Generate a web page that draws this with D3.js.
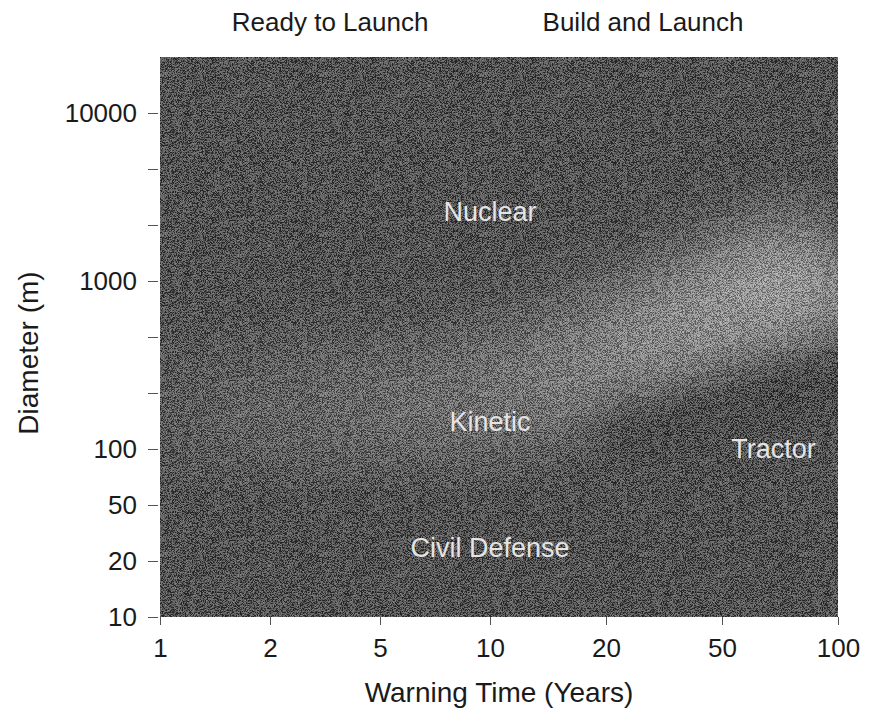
<!DOCTYPE html>
<html>
<head>
<meta charset="utf-8">
<script src="https://cdn.jsdelivr.net/npm/d3@7"></script>
<style>
  body { margin: 0; background: #fff; }
  text { font-family: "Liberation Sans", Arial, sans-serif; }
</style>
</head>
<body>
<svg id="chart" width="870" height="719"></svg>
<script>
// axis values
const xTicks = [1, 2, 5, 10, 20, 50, 100];
const yTicks = [10, 20, 50, 100, 200, 500, 1000, 2000, 5000, 10000];
const yLabelled = [10, 20, 50, 100, 1000, 10000];
const yMax = 20000;

// region names written inside the plot
const regionNames = ["Nuclear", "Kinetic", "Civil Defense", "Tractor"];
const regionX = [10, 10, 10, 68];
const regionY = [2500, 140, 25, 100];

// strategy headings above the plot
const topNames = ["Ready to Launch", "Build and Launch"];
const topX = [3.3, 26.8];

// light band across the plot (ridge of the glow) and its brightness
const ridgeX = [1, 2.6, 9, 15, 42, 95, 100];
const ridgeY = [160, 170, 195, 280, 650, 1250, 1350];
const ridgeGlow = [0.12, 0.24, 0.38, 0.5, 0.75, 0.95, 0.95];

// darker trough under the band on the right
const troughX = [22, 50, 100];
const troughY = [110, 160, 250];

const LEFT = 160, RIGHT = 838, X_MID = 490, BOTTOM = 617, DEC = 168;

// 1-2-5 values sit on thirds of a decade in this figure
const third = v => {
  const e = Math.floor(Math.log10(v) + 1e-9);
  const m = Math.round(v / 10 ** e);
  return e + (m === 1 ? 0 : m === 2 ? 1 / 3 : m === 5 ? 2 / 3 : Math.log10(m));
};
const xPos = t => t <= 1 ? LEFT + t * (X_MID - LEFT) : X_MID + (t - 1) * (RIGHT - X_MID);
const yPos = t => BOTTOM - (t - 1) * DEC;

const yStops = yTicks.concat(yMax);
const x = d3.scaleLog().domain(xTicks).range(xTicks.map(v => xPos(third(v))));
const y = d3.scaleLog().domain(yStops).range(yStops.map(v => yPos(third(v))));

const svg = d3.select("#chart");
const defs = svg.append("defs");

defs.append("clipPath").attr("id", "plotclip")
  .append("rect")
    .attr("x", x(1)).attr("y", y(yMax))
    .attr("width", x(100) - x(1)).attr("height", y(10) - y(yMax));

const glowBlur = defs.append("filter").attr("id", "glowblur")
  .attr("x", "-50%").attr("y", "-50%").attr("width", "200%").attr("height", "200%");
glowBlur.append("feGaussianBlur").attr("stdDeviation", 32);

const troughBlur = defs.append("filter").attr("id", "troughblur")
  .attr("x", "-50%").attr("y", "-50%").attr("width", "200%").attr("height", "200%");
troughBlur.append("feGaussianBlur").attr("stdDeviation", 18);

// grain
const noise = defs.append("filter").attr("id", "noise")
  .attr("x", 0).attr("y", 0).attr("width", "100%").attr("height", "100%");
noise.append("feTurbulence")
  .attr("type", "fractalNoise").attr("baseFrequency", 1.6)
  .attr("numOctaves", 1).attr("seed", 7);
noise.append("feColorMatrix").attr("type", "matrix")
  .attr("values", "3 0 0 0 -1.3  3 0 0 0 -1.3  3 0 0 0 -1.3  0 0 0 0 0.4");

const grad = defs.append("linearGradient").attr("id", "ridgegrad")
  .attr("gradientUnits", "userSpaceOnUse")
  .attr("x1", x(1)).attr("x2", x(100)).attr("y1", 0).attr("y2", 0);
grad.selectAll("stop")
  .data(ridgeX)
  .join("stop")
    .attr("offset", d => (x(d) - x(1)) / (x(100) - x(1)))
    .attr("stop-color", "#c4c4c4")
    .attr("stop-opacity", (d, i) => ridgeGlow[i]);

const plot = svg.append("g").attr("clip-path", "url(#plotclip)");

plot.append("rect")
  .attr("x", x(1)).attr("y", y(yMax))
  .attr("width", x(100) - x(1)).attr("height", y(10) - y(yMax))
  .attr("fill", "#3e3e3e");

const line = d3.line()
  .x(d => x(d[0]))
  .y(d => y(d[1]))
  .curve(d3.curveCatmullRom);

plot.append("path")
  .datum(d3.zip(ridgeX, ridgeY))
  .attr("d", line)
  .attr("fill", "none")
  .attr("stroke", "url(#ridgegrad)")
  .attr("stroke-width", 120)
  .attr("filter", "url(#glowblur)");

plot.append("path")
  .datum(d3.zip(troughX, troughY))
  .attr("d", line)
  .attr("fill", "none")
  .attr("stroke", "#303030")
  .attr("stroke-width", 46)
  .attr("stroke-linecap", "round")
  .attr("filter", "url(#troughblur)");

plot.append("rect")
  .attr("x", x(1)).attr("y", y(yMax))
  .attr("width", x(100) - x(1)).attr("height", y(10) - y(yMax))
  .attr("filter", "url(#noise)");

// axes
const xAxis = d3.axisBottom(x)
  .tickValues(xTicks)
  .tickSize(8)
  .tickPadding(14)
  .tickFormat(d3.format("d"));

svg.append("g")
  .attr("transform", `translate(0,${y(10)})`)
  .call(xAxis)
  .call(g => g.select(".domain").remove())
  .call(g => g.selectAll(".tick line").attr("stroke", "#555"))
  .call(g => g.selectAll(".tick text")
    .attr("fill", "#1a1a1a").style("font-size", "26px"));

const yAxis = d3.axisLeft(y)
  .tickValues(yTicks)
  .tickSize(10)
  .tickPadding(11)
  .tickFormat(d => yLabelled.includes(d) ? d3.format("d")(d) : "");

svg.append("g")
  .attr("transform", `translate(${x(1) - 2},0)`)
  .call(yAxis)
  .call(g => g.select(".domain").remove())
  .call(g => g.selectAll(".tick line").attr("stroke", "#555"))
  .call(g => g.selectAll(".tick text")
    .attr("fill", "#1a1a1a").style("font-size", "26px"));

// titles
svg.append("text")
  .attr("x", (x(1) + x(100)) / 2)
  .attr("y", 702)
  .attr("text-anchor", "middle")
  .attr("fill", "#1a1a1a")
  .style("font-size", "28px")
  .text("Warning Time (Years)");

svg.append("text")
  .attr("transform", `translate(38,${(y(10) + y(yMax)) / 2 + 16}) rotate(-90)`)
  .attr("text-anchor", "middle")
  .attr("fill", "#1a1a1a")
  .style("font-size", "28px")
  .text("Diameter (m)");

svg.selectAll(".top-name")
  .data(topNames)
  .join("text")
    .attr("class", "top-name")
    .attr("x", (d, i) => x(topX[i]))
    .attr("y", 31)
    .attr("text-anchor", "middle")
    .attr("fill", "#1a1a1a")
    .style("font-size", "26px")
    .text(d => d);

svg.selectAll(".region")
  .data(regionNames)
  .join("text")
    .attr("class", "region")
    .attr("x", (d, i) => x(regionX[i]))
    .attr("y", (d, i) => y(regionY[i]))
    .attr("dy", "0.35em")
    .attr("text-anchor", "middle")
    .attr("fill", "#e4e4e4")
    .style("font-size", "27px")
    .text(d => d);
</script>
</body>
</html>
